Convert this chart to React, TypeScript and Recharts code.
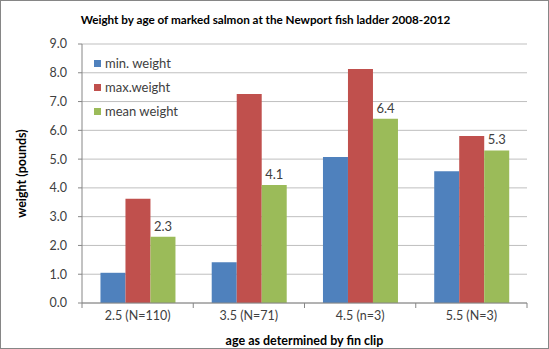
import React from "react";
import { BarChart, Bar, XAxis, YAxis, CartesianGrid, Legend, LabelList } from "recharts";

const categories = ["2.5 (N=110)", "3.5 (N=71)", "4.5 (n=3)", "5.5 (N=3)"];
const minWeight = [1.05, 1.42, 5.07, 4.58];
const maxWeight = [3.62, 7.26, 8.13, 5.8];
const meanWeight = [2.3, 4.1, 6.4, 5.3];
const yTicks = [0, 1, 2, 3, 4, 5, 6, 7, 8, 9];

const seriesNames = ["min. weight", "max.weight", "mean weight"];
const colors = ["#4f81bd", "#c0504d", "#9bbb59"];

const data = categories.map((c, i) => ({
  name: c,
  min: minWeight[i],
  max: maxWeight[i],
  mean: meanWeight[i],
}));

const FONT = "Lato, 'Open Sans', sans-serif";

const XTick = (props: any) => {
  const { x, y, payload, index, visibleTicksCount } = props;
  const axisY = y - 8;
  const off = payload.offset || 0;
  const last = index === visibleTicksCount - 1;
  return (
    <g>
      <line x1={x - off} x2={x - off} y1={axisY} y2={axisY + 5} stroke="#868686" />
      {last && <line x1={x + off} x2={x + off} y1={axisY} y2={axisY + 5} stroke="#868686" />}
      <text x={x} y={y} dy="0.71em" textAnchor="middle" fontSize={12.5} fill="#404040" fontFamily={FONT}>
        {payload.value}
      </text>
    </g>
  );
};

const LegendContent = () => (
  <div style={{ fontFamily: FONT, fontSize: 13, color: "#404040" }}>
    {seriesNames.map((n, i) => (
      <div key={n} style={{ height: 24, display: "flex", alignItems: "center" }}>
        <span style={{ width: 7, height: 7, background: colors[i], display: "inline-block", marginRight: 4 }} />
        <span>{n}</span>
      </div>
    ))}
  </div>
);

export default function App() {
  return (
    <div style={{ position: "absolute", left: 0, top: 0, width: 549, height: 349, background: "#fff" }}>
      <div
        style={{
          position: "absolute",
          left: 0,
          top: 12,
          width: 531,
          textAlign: "center",
          fontFamily: FONT,
          fontWeight: 700,
          fontSize: 11.7,
          color: "#000",
        }}
      >
        Weight by age of marked salmon at the Newport fish ladder 2008-2012
      </div>
      <BarChart
        width={549}
        height={349}
        data={data}
        margin={{ top: 44, right: 22, bottom: 0, left: 0 }}
        barCategoryGap="16.6%"
        barGap={0}
      >
        <CartesianGrid vertical={false} stroke="#bfbfbf" />
        <XAxis
          dataKey="name"
          height={46}
          axisLine={{ stroke: "#868686" }}
          tickLine={false}
          tickSize={5}
          tickMargin={3}
          tick={<XTick />}
          interval={0}
          label={{
            value: "age as determined by fin clip",
            position: "insideBottom",
            offset: 4,
            fontFamily: FONT,
            fontWeight: 700,
            fontSize: 12.5,
            fill: "#000",
          }}
        />
        <YAxis
          width={82}
          domain={[0, 9]}
          ticks={yTicks}
          interval={0}
          tickFormatter={(v: number) => v.toFixed(1)}
          axisLine={{ stroke: "#868686" }}
          tickLine={{ stroke: "#868686" }}
          tickSize={4}
          tickMargin={11}
          tick={{ fontSize: 12.5, fill: "#404040", fontFamily: FONT }}
          label={{
            value: "weight  (pounds)",
            angle: -90,
            position: "insideLeft",
            offset: 22,
            style: { textAnchor: "middle", whiteSpace: "pre" },
            fontFamily: FONT,
            fontWeight: 700,
            fontSize: 12.5,
            fill: "#000",
          }}
        />
        <Legend
          layout="vertical"
          align="center"
          verticalAlign="middle"
          content={<LegendContent />}
          wrapperStyle={{ left: 94, top: 51, width: 120, height: 72 }}
        />
        <Bar dataKey="min" name={seriesNames[0]} fill={colors[0]} isAnimationActive={false} />
        <Bar dataKey="max" name={seriesNames[1]} fill={colors[1]} isAnimationActive={false} />
        <Bar dataKey="mean" name={seriesNames[2]} fill={colors[2]} isAnimationActive={false}>
          <LabelList
            dataKey="mean"
            position="top"
            offset={6}
            formatter={(v: any) => Number(v).toFixed(1)}
            style={{ fontSize: 13, fill: "#404040", fontFamily: FONT }}
          />
        </Bar>
      </BarChart>
      <div
        style={{
          position: "absolute",
          left: 0,
          top: 0,
          width: 549,
          height: 349,
          boxSizing: "border-box",
          border: "1px solid #868686",
          pointerEvents: "none",
        }}
      />
    </div>
  );
}
